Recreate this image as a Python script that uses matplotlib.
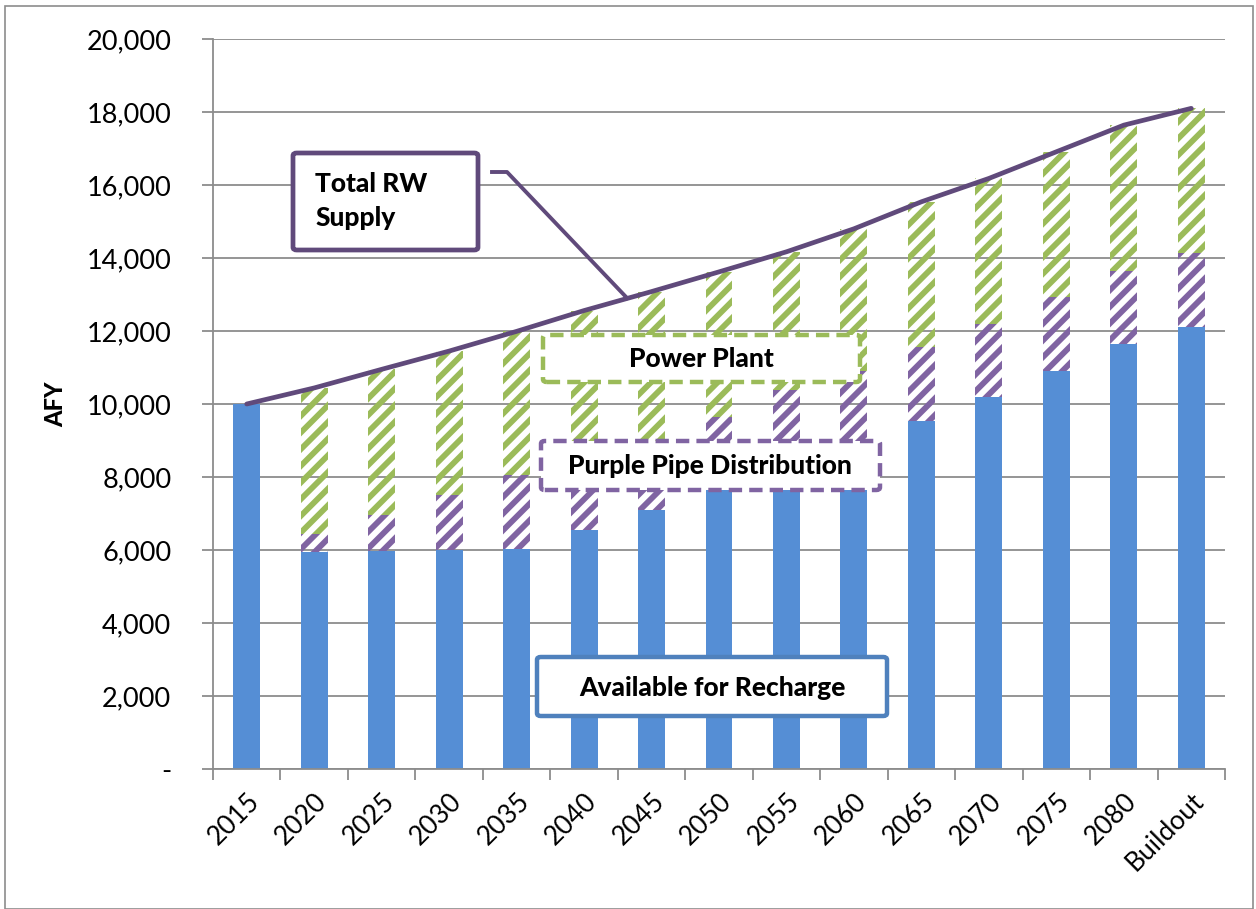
import matplotlib.pyplot as plt
from matplotlib.patches import FancyBboxPatch, Rectangle
from matplotlib.ticker import FuncFormatter
import numpy as np

plt.rcParams['font.family'] = ['Lato', 'DejaVu Sans']
plt.rcParams['hatch.linewidth'] = 4.2

# 数据
years = ['2015', '2020', '2025', '2030', '2035', '2040', '2045', '2050',
         '2055', '2060', '2065', '2070', '2075', '2080', 'Buildout']
recharge = [10000, 5950, 5975, 6000, 6030, 6550, 7100, 7640,
            7640, 7640, 9530, 10200, 10900, 11640, 12100]
purple_top = [10000, 6450, 6960, 7500, 8050, 8550, 8900, 9650,
              10380, 10900, 11570, 12200, 12920, 13650, 14130]
total_rw = [10000, 10440, 10950, 11450, 11990, 12560, 13080, 13620,
            14170, 14800, 15540, 16180, 16910, 17640, 18100]

purple_pipe = np.array(purple_top) - np.array(recharge)
power_plant = np.array(total_rw) - np.array(purple_top)

W, H = 1256, 909
fig = plt.figure(figsize=(W / 100, H / 100), dpi=100)

# 图框
fig.patches.append(Rectangle((5 / W, 0), (W - 8) / W, (H - 6) / H, transform=fig.transFigure,
                             fill=False, edgecolor='#8c8c8c', linewidth=1.2))

ax = fig.add_axes([213 / W, (H - 769) / H, (1225 - 213) / W, (769 - 39) / H])

x = np.arange(len(years))
bw = 0.4
ax.bar(x, recharge, bw, color='#558ED5', zorder=2)
ax.bar(x, purple_pipe, bw, bottom=recharge, color='none', edgecolor='#8064A2',
       hatch='//', linewidth=0, zorder=2)
ax.bar(x, power_plant, bw, bottom=purple_top, color='none', edgecolor='#9BBB59',
       hatch='//', linewidth=0, zorder=2)
ax.plot(x, total_rw, color='#604A7B', linewidth=3.4, solid_capstyle='round', zorder=3)

ax.set_xlim(-0.5, len(years) - 0.5)
ax.set_ylim(0, 20000)
ax.set_yticks(np.arange(0, 20001, 2000))
ax.yaxis.set_major_formatter(FuncFormatter(lambda v, p: '-' if v == 0 else f'{int(v):,}'))
ax.grid(axis='y', color='#8c8c8c', linewidth=1.3, zorder=0)
ax.set_axisbelow(True)

ax.set_xticks(x)
ax.set_xticklabels(years, rotation=45, ha='right', rotation_mode='anchor', fontsize=19)
ax.set_xticks(np.arange(-0.5, len(years)), minor=True)
ax.tick_params(axis='x', which='major', length=0, pad=14)
ax.tick_params(axis='x', which='minor', length=8, color='#8c8c8c', width=1.3)
ax.tick_params(axis='y', length=8, color='#8c8c8c', width=1.3, labelsize=19.5, pad=22)

for s in ['top', 'right']:
    ax.spines[s].set_visible(False)
for s in ['left', 'bottom']:
    ax.spines[s].set_color('#8c8c8c')
    ax.spines[s].set_linewidth(1.3)

ax.set_ylabel('AFY', fontsize=17, fontweight='black', labelpad=14)


def px_box(x0, y0, x1, y1, ec, ls='-', lw=3):
    b = FancyBboxPatch((x0 / W, 1 - y1 / H), (x1 - x0) / W, (y1 - y0) / H,
                       boxstyle='round,pad=0,rounding_size=0.003',
                       transform=fig.transFigure, facecolor='white', edgecolor=ec,
                       linewidth=lw, linestyle=ls, zorder=5)
    fig.patches.append(b)


# 标注框
px_box(293, 153, 478, 250, '#604A7B', '-', 3.4)
fig.text(315 / W, 1 - 201 / H, 'Total RW\nSupply', fontsize=19, fontweight='black',
         ha='left', va='center', linespacing=1.5, zorder=6)
fig.add_artist(plt.Line2D([492 / W, 507 / W, 627 / W], [1 - 172 / H, 1 - 172 / H, 1 - 298 / H],
                          color='#604A7B', linewidth=2.8, transform=fig.transFigure, zorder=4))

px_box(543, 335, 860, 382, '#9BBB59', (0, (3, 1.6)), 3.2)
fig.text(701 / W, 1 - 359 / H, 'Power Plant', fontsize=19, fontweight='black',
         ha='center', va='center', zorder=6)

px_box(541, 441, 880, 490, '#8064A2', (0, (3, 1.6)), 3.2)
fig.text(710 / W, 1 - 466 / H, 'Purple Pipe Distribution', fontsize=19, fontweight='black',
         ha='center', va='center', zorder=6)

px_box(537, 657, 887, 716, '#4F81BD', '-', 3.2)
fig.text(712 / W, 1 - 688 / H, 'Available for Recharge', fontsize=19, fontweight='black',
         ha='center', va='center', zorder=6)

plt.savefig('out.png', dpi=100)
plt.close()
